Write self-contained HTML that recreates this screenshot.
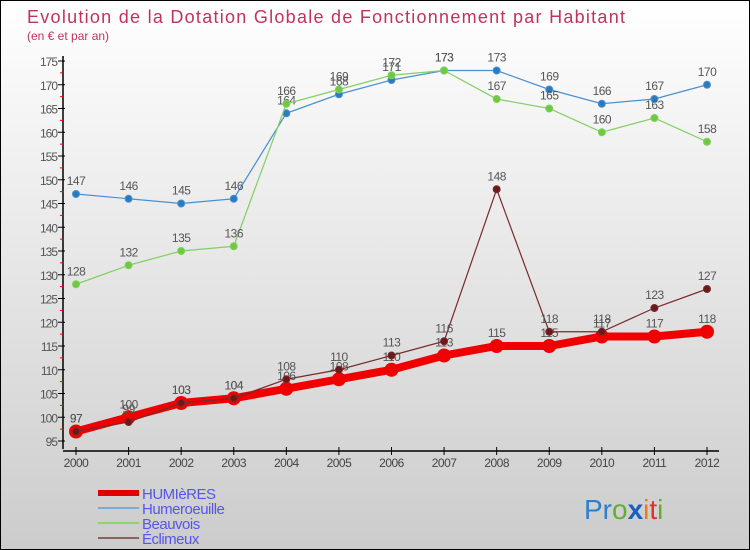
<!DOCTYPE html>
<html><head><meta charset="utf-8"><style>
body{margin:0}
#c{width:750px;height:550px;position:relative;box-sizing:border-box;border:1px solid #000;background:linear-gradient(#fff,#ccc);font-family:"DejaVu Sans","Liberation Sans",sans-serif;overflow:hidden}
</style></head><body>
<div id="c">
<svg id="s" width="750" height="550" style="position:absolute;left:0;top:0">
<text x="26" y="22" font-size="18" fill="#c0335c" font-family="Liberation Sans,sans-serif" textLength="598">Evolution de la Dotation Globale de Fonctionnement par Habitant</text>
<text x="26" y="39" font-size="12" fill="#c0335c" font-family="Liberation Sans,sans-serif">(en € et par an)</text>
<g id="axes"></g><g id="series"></g><g id="legend"></g>
<text x="583" y="518" font-size="28" font-family="Liberation Sans,sans-serif"><tspan fill="#2a7fcf">Pr</tspan><tspan fill="#5fb030">o</tspan><tspan fill="#1a5fbf" font-weight="bold">x</tspan><tspan fill="#f07a10">i</tspan><tspan fill="#e03030">t</tspan><tspan fill="#5fb030">i</tspan></text>
</svg>
</div>
<script>
const years=[2000,2001,2002,2003,2004,2005,2006,2007,2008,2009,2010,2011,2012];
const yTicks=[95,100,105,110,115,120,125,130,135,140,145,150,155,160,165,170,175];
const humieres=[97,100,103,104,106,108,110,113,115,115,117,117,118];
const humeroeuille=[147,146,145,146,164,168,171,173,173,169,166,167,170];
const beauvois=[128,132,135,136,166,169,172,173,167,165,160,163,158];
const eclimeux=[97,99,103,104,108,110,113,116,148,118,118,123,127];
const NS="http://www.w3.org/2000/svg";
const X=i=>75+i*(706-75)/(years.length-1);
const Y=v=>440-(v-95)*(380/80);
function mk(t,a,p){const e=document.createElementNS(NS,t);for(const k in a)e.setAttribute(k,a[k]);p.appendChild(e);return e;}
const ax=document.getElementById('axes');
let l=mk('line',{x1:62,y1:55,x2:62,y2:448,stroke:'#000','stroke-width':1.5},ax);


l=mk('line',{x1:62,y1:450,x2:718,y2:450,stroke:'#000','stroke-width':1.5},ax);


yTicks.forEach(v=>{
 mk('line',{x1:57,y1:Y(v),x2:64,y2:Y(v),stroke:'#000'},ax);
 if(v<175)mk('line',{x1:59,y1:Y(v+2.5),x2:63,y2:Y(v+2.5),stroke:'#e00'},ax);
 const t=mk('text',{x:56,y:Y(v)+5,'text-anchor':'end','font-size':12,fill:'#555','letter-spacing':'-1','font-family':'Liberation Sans,sans-serif'},ax);
 t.textContent=v;
 
 
});
years.forEach((y,i)=>{
 mk('line',{x1:X(i),y1:446,x2:X(i),y2:454,stroke:'#000'},ax);
 const t=mk('text',{x:X(i),y:466,'text-anchor':'middle','font-size':12,fill:'#444','letter-spacing':'-0.5','font-family':'Liberation Sans,sans-serif'},ax);
 t.textContent=y;
 
 
});
const sg=document.getElementById('series');
function series(name,data,color,w,r,fill){
 const g=mk('g',{},sg);
 
 
 const p=mk('polyline',{points:data.map((v,i)=>X(i)+','+Y(v)).join(' '),fill:'none',stroke:color,'stroke-width':w},g);
 
 
 data.forEach((v,i)=>{
  const c=mk('circle',{cx:X(i),cy:Y(v),r:r,fill:fill,stroke:color,'stroke-width':1},g);
  
  
  const t=mk('text',{x:X(i),y:Y(v)-9,'text-anchor':'middle','font-size':12,fill:'#555','letter-spacing':'-0.5','font-family':'Liberation Sans,sans-serif'},g);
  t.textContent=v;
  
  
 });
}
series('humeroeuille',humeroeuille,'#4a90d0',1.2,3.5,'#2a7ac0');
series('beauvois',beauvois,'#80d060',1.2,3.5,'#70c840');
series('humieres',humieres,'#f00000',8,6.5,'#f00000');
series('eclimeux',eclimeux,'#7a2a2a',1.2,3.5,'#6a1a1a');
const lg=document.getElementById('legend');
const items=[['HUMIèRES','#e00000',6],['Humeroeuille','#7aaed0',2],['Beauvois','#90d070',2],['Éclimeux','#906060',2]];
items.forEach((it,i)=>{
 const y=492+i*15;
 const g=mk('g',{},lg);
 
 
 mk('line',{x1:97,y1:y,x2:138,y2:y,stroke:it[1],'stroke-width':it[2]},g);
 const t=mk('text',{x:141,y:y+6,'font-size':15,fill:'#5555ee','letter-spacing':'-0.5','font-family':'Liberation Sans,sans-serif'},g);
 t.textContent=it[0];
});
</script>
</body></html>
